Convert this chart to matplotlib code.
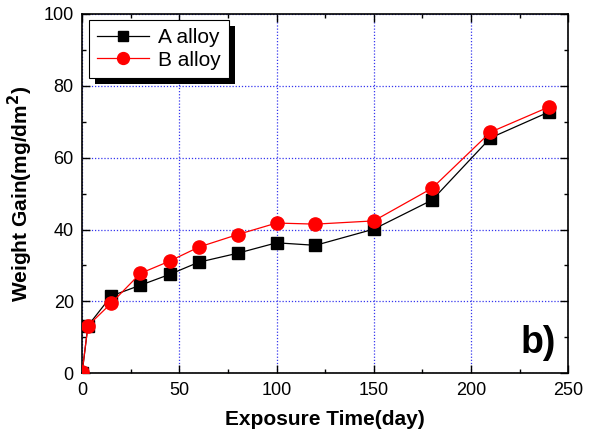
import matplotlib

matplotlib.use("Agg")
import matplotlib.pyplot as plt
from matplotlib.patches import Rectangle
from matplotlib.ticker import MultipleLocator

plt.rcParams["font.family"] = ["Liberation Sans", "DejaVu Sans"]

days = [0, 3, 15, 30, 45, 60, 80, 100, 120, 150, 180, 210, 240]
gain_a = [0.0, 13.2, 21.5, 24.5, 27.5, 30.9, 33.4, 36.3, 35.6, 40.1, 48.2, 65.5, 72.7]
gain_b = [0.3, 13.2, 19.5, 27.8, 31.2, 35.1, 38.6, 41.8, 41.5, 42.4, 51.5, 67.1, 74.1]

fig = plt.figure(figsize=(5.95, 4.37), dpi=100)
ax = fig.add_axes([0.138, 0.146, 0.817, 0.822])

ax.plot(days, gain_a, "-s", color="black", lw=0.9, ms=8.5, mfc="black",
        mec="black", label="A alloy", zorder=3)
ax.plot(days, gain_b, "-o", color="red", lw=0.9, ms=9.5, mfc="red",
        mec="red", label="B alloy", zorder=4)

ax.set_xlim(0, 250)
ax.set_ylim(0, 100)
ax.xaxis.set_major_locator(MultipleLocator(50))
ax.xaxis.set_minor_locator(MultipleLocator(25))
ax.yaxis.set_major_locator(MultipleLocator(20))
ax.yaxis.set_minor_locator(MultipleLocator(10))
ax.tick_params(which="both", direction="in", top=True, right=True,
               labelsize=13, width=1.0, pad=6)
ax.tick_params(which="major", length=6)
ax.tick_params(which="minor", length=3)
ax.grid(True, which="major", color="#3535ee", ls=(0, (1, 1.5)), lw=0.9)
for s in ax.spines.values():
    s.set_linewidth(1.2)

ax.set_xlabel("Exposure Time(day)", fontsize=15, fontweight="bold", labelpad=8)
ax.set_ylabel("Weight Gain(mg/dm$^\\mathbf{2}$)", fontsize=15,
              fontweight="bold", labelpad=6)

leg = ax.legend(loc="upper left", bbox_to_anchor=(0.014, 0.983), fontsize=15,
                frameon=True, fancybox=False, edgecolor="black", framealpha=1,
                handlelength=2.5, borderpad=0.4, labelspacing=0.15,
                handletextpad=0.4, borderaxespad=0, markerscale=0.9)
leg.get_frame().set_linewidth(0.8)
leg.set_zorder(6)

# solid drop shadow offset down-right from the legend box
fig.canvas.draw()
bb = leg.get_window_extent().transformed(ax.transAxes.inverted())
dx = 6 / ax.bbox.width
dy = 6 / ax.bbox.height
ax.add_patch(Rectangle((bb.x0 + dx, bb.y0 - dy), bb.width, bb.height,
                       transform=ax.transAxes, facecolor="black",
                       edgecolor="none", zorder=5.5, clip_on=False))

ax.text(0.975, 0.055, "b)", transform=ax.transAxes, ha="right", va="baseline",
        fontsize=27, fontweight="bold")

fig.savefig("out.png", dpi=100)
